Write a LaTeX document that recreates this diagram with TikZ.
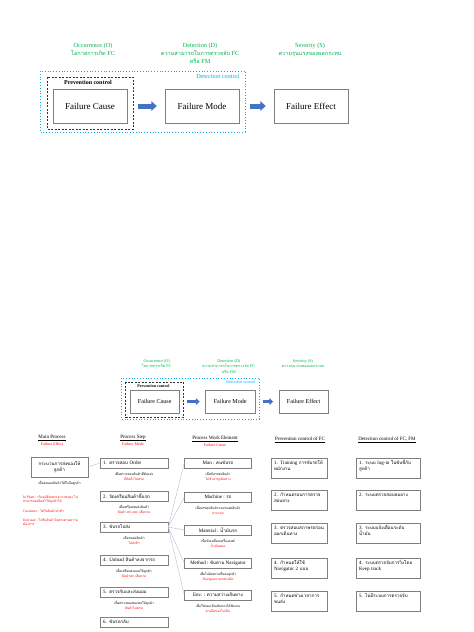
\documentclass[tikz,border=0pt]{standalone}
\usepackage{fontspec}
\setmainfont{Liberation Serif}
\newfontfamily\thaifont[Script=Thai, Scale=0.9]{Loma}
\usepackage{xcolor}
\usetikzlibrary{positioning, calc, arrows.meta}
\definecolor{occgreen}{HTML}{00B050}
\definecolor{detblue}{HTML}{00B0F0}
\definecolor{arrowblue}{HTML}{4472C4}
\definecolor{boxgray}{HTML}{808080}
\definecolor{linkblue}{HTML}{AFC0DA}
\definecolor{fmred}{HTML}{FF0000}
\newcommand{\thaitext}[1]{{\thaifont #1}}

\begin{document}
\begin{tikzpicture}[x=1pt, y=-1pt,
    fbox/.style={draw=boxgray, minimum width=74pt, minimum height=34pt, inner sep=1pt, font=\fontsize{9}{10}\selectfont},
    rating/.style={text=occgreen, align=center, anchor=north, font=\fontsize{6.2}{8}\selectfont},
    blockarrow/.style={draw=arrowblue, -{Triangle[length=0pt 1.1, width=0pt 1.9]}},
    detframe/.style={draw=detblue, dotted, line width=0.8pt},
    prevframe/.style={draw=black!80, dash pattern=on 2pt off 1.5pt, line width=0.7pt},
    hdr/.style={font=\fontsize{5}{6}\selectfont},
    fmlabel/.style={text=fmred, font=\fontsize{4}{5}\selectfont},
    stepbox/.style={draw=boxgray, minimum height=10.5pt, text width=62pt, align=left, inner xsep=3pt, inner ysep=1pt, font=\fontsize{5}{6}\selectfont},
    elembox/.style={draw=boxgray, minimum width=67pt, minimum height=10.5pt, align=center, inner sep=1pt, font=\fontsize{5}{6}\selectfont},
    note/.style={align=center, anchor=north, inner sep=0pt, font=\fontsize{3.6}{4.6}\selectfont},
    ctrlbox/.style={draw=boxgray, text width=#1, align=left, inner xsep=3pt, inner ysep=2pt, text height=4pt, text depth=12pt, font=\fontsize{5}{6}\selectfont},
    link/.style={draw=linkblue, line width=0.4pt}]

  \useasboundingbox (0,0) rectangle (474,632);

  % overview, large on top and a small copy above the table
  \foreach \p/\s/\ox/\oy/\aw/\sa/\sb in {t/1/40/71/5/11/8, b/0.674/121/378/3.4/7.4/5.4}{
    \begin{scope}[shift={(\ox,\oy)}, scale=\s, transform shape, name prefix=\p-]
      \draw[detframe] (0,0) rectangle (205,61);
      \draw[prevframe] (7,6) rectangle (93,58);
      \node[font=\bfseries\fontsize{6}{7}\selectfont] (prev) at (48,11.5) {Prevention control};
      \node[text=detblue, anchor=east, font=\fontsize{6.2}{7}\selectfont] (det) at (203,5.5) {Detection control};
      \node[fbox] (fc) at (50,35) {Failure Cause};
      \node[fbox] (fm) at (162,35) {Failure Mode};
      \node[fbox] (fe) at (271,35) {Failure Effect};
      \draw[blockarrow, line width=\aw pt, shorten <=\sa pt, shorten >=\sb pt] (fc) -- (fm);
      \draw[blockarrow, line width=\aw pt, shorten <=\sa pt, shorten >=\sb pt] (fm) -- (fe);
      \node[rating] (occ) at (53,-31) {Occurrence (O)\\\thaitext{โอกาสการเกิด} FC};
      \node[rating] (dtn) at (160,-31) {Detection (D)\\\thaitext{ความสามารถในการตรวจจับ} FC\\\thaitext{หรือ} FM};
      \node[rating] (sev) at (270,-31) {Severity (S)\\\thaitext{ความรุนแรงของผลกระทบ}};
    \end{scope}
  }

  % column heads
  \node[hdr] (mph) at (52,438) {\underline{Main Process}};
  \node[fmlabel] (mpr) at (52,444) {Failure Effect};
  \node[hdr] (psh) at (133,438) {\underline{Process Step}};
  \node[fmlabel] (psr) at (133,444) {Failure Mode};
  \node[hdr] (weh) at (215,439) {\underline{Process Work Element}};
  \node[fmlabel] (wer) at (215,445) {Failure Cause};
  \node[hdr] (pch) at (300,440) {\underline{Prevention control of FC}};
  \node[hdr] (dch) at (387,440) {\underline{Detection control of FC, FM}};

  % main process
  \node[draw=boxgray, minimum width=57pt, minimum height=20pt, align=center, inner sep=1pt,
        font=\thaifont\fontsize{5}{6}\selectfont] (mp) at (59.5,467) {กระบวนการส่งของให้\\ลูกค้า};
  \node[note] (mpn) at (59.5,481) {\thaitext{เพื่อส่งมอบสินค้าให้ถึงมือลูกค้า}};
  \node[note, anchor=north west, align=left, text=fmred] (fe1) at (23,495)
       {In Plant : \thaitext{เกิดอุบัติเหตุระหว่างขนส่ง ไม่}\\\thaitext{สามารถส่งสินค้าให้ลูกค้าได้}};
  \node[note, anchor=north west, align=left, text=fmred] (fe2) at (23,509)
       {Customer : \thaitext{ได้รับสินค้าล่าช้า}};
  \node[note, anchor=north west, align=left, text=fmred] (fe3) at (23,518)
       {End user : \thaitext{ได้รับสินค้าไม่ตรงตามความ}\\\thaitext{ต้องการ}};

  % process steps
  \node[stepbox] (s1) at (134,463) {1. \thaitext{ตรวจสอบ} Order};
  \node[note] (s1n) at (134,472) {\thaitext{เพื่อตรวจสอบสินค้าที่ต้องส่ง}\\\textcolor{fmred}{\thaitext{มีสินค้าไม่ครบ}}};
  \node[stepbox] (s2) at (134,496) {2. \thaitext{จัดเตรียมสินค้าขึ้นรถ}};
  \node[note] (s2n) at (134,505) {\thaitext{เพื่อเตรียมขนส่งสินค้า}\\\textcolor{fmred}{\thaitext{สินค้า ตก,แตก เสียหาย}}};
  \node[stepbox] (s3) at (134,527) {3. \thaitext{ขับรถไปส่ง}};
  \node[note] (s3n) at (134,536) {\thaitext{เพื่อขนส่งสินค้า}\\\textcolor{fmred}{\thaitext{ไปส่งช้า}}};
  \node[stepbox] (s4) at (134,560) {4. Unload \thaitext{สินค้าลงจากรถ}};
  \node[note] (s4n) at (134,569) {\thaitext{เพื่อเตรียมส่งมอบให้ลูกค้า}\\\textcolor{fmred}{\thaitext{สินค้าตก เสียหาย}}};
  \node[stepbox] (s5) at (134,592) {5. \thaitext{ตรวจรับและส่งมอบ}};
  \node[note] (s5n) at (134,601) {\thaitext{เพื่อตรวจสอบของส่งให้ลูกค้า}\\\textcolor{fmred}{\thaitext{สินค้าไม่ครบ}}};
  \node[stepbox] (s6) at (134,622) {6. \thaitext{ขับรถกลับ}};

  % work elements of step 3
  \node[elembox] (e1) at (218,463) {Man : \thaitext{คนขับรถ}};
  \node[note] (e1n) at (218,472) {\thaitext{เพื่อขับรถส่งสินค้า}\\\textcolor{fmred}{\thaitext{ไม่ชำนาญเส้นทาง}}};
  \node[elembox] (e2) at (218,497) {Machine : \thaitext{รถ}};
  \node[note] (e2n) at (218,506) {\thaitext{เพื่อบรรทุกสินค้าและขนส่งสินค้า}\\\textcolor{fmred}{\thaitext{ยางแตก}}};
  \node[elembox] (e3) at (218,530) {Material : \thaitext{น้ำมันรถ}};
  \node[note] (e3n) at (218,539) {\thaitext{เพื่อขับเคลื่อนเครื่องยนต์}\\\textcolor{fmred}{\thaitext{น้ำมันหมด}}};
  \node[elembox] (e4) at (218,563) {Method : \thaitext{ขับตาม} Navigator};
  \node[note] (e4n) at (218,572) {\thaitext{เพื่อไปยังสถานที่ของลูกค้า}\\\textcolor{fmred}{Navigator \thaitext{บอกทางผิด}}};
  \node[elembox] (e5) at (218,595) {Env. : \thaitext{ความสว่างเส้นทาง}};
  \node[note] (e5n) at (218,604) {\thaitext{เพื่อให้มองเห็นเส้นทางได้ชัดเจน}\\\textcolor{fmred}{\thaitext{ทางมืดมองไม่เห็น}}};

  \draw[link] (mp.east) -- (s1.west);
  \draw[link] (s3.east) -- (e1.west);
  \draw[link] (s3.east) -- (e2.west);
  \draw[link] (s3.east) -- (e3.west);
  \draw[link] (s3.east) -- (e4.west);
  \draw[link] (s3.east) -- (e5.west);

  % prevention controls
  \node[ctrlbox=50pt] (p1) at (299,468) {1. Training \thaitext{การขับรถให้}\\\thaitext{พนักงาน}};
  \node[ctrlbox=50pt] (p2) at (299,500) {2. \thaitext{กำหนดรอบการตรวจ}\\\thaitext{สอบยาง}};
  \node[ctrlbox=50pt] (p3) at (299,533) {3. \thaitext{ตรวจสอบสภาพรถก่อน}\\\thaitext{ออกเดินทาง}};
  \node[ctrlbox=50pt] (p4) at (299,568) {4. \thaitext{กำหนดให้ใช้}\\Navigator 2 \thaitext{แบบ}};
  \node[ctrlbox=50pt] (p5) at (299,601) {5. \thaitext{กำหนดช่วงเวลาการ}\\\thaitext{ขนส่ง}};

  % detection controls
  \node[ctrlbox=58pt] (d1) at (388,468) {1. \thaitext{ระบบ} log-in \thaitext{ในขับขี่กับ}\\\thaitext{ลูกค้า}};
  \node[ctrlbox=58pt] (d2) at (388,500) {2. \thaitext{ระบบตรวจสอบลมยาง}};
  \node[ctrlbox=58pt] (d3) at (388,533) {3. \thaitext{ระบบแจ้งเตือนระดับ}\\\thaitext{น้ำมัน}};
  \node[ctrlbox=58pt] (d4) at (388,568) {4. \thaitext{ระบบตรวจจับการวิ่งโดย}\\Keep track};
  \node[ctrlbox=58pt] (d5) at (388,601) {5. \thaitext{ไม่มีระบบการตรวจจับ}};
\end{tikzpicture}
\end{document}
